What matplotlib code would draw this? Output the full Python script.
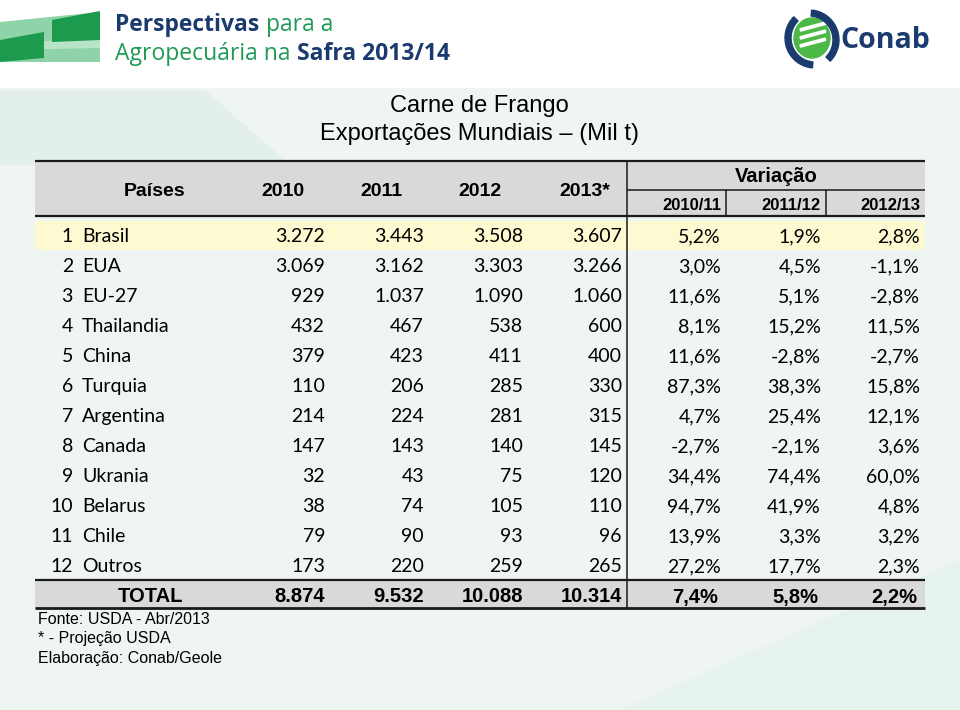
import matplotlib
matplotlib.use("Agg")
import matplotlib.pyplot as plt
from matplotlib.patches import Polygon, Rectangle, Ellipse, Wedge

# ---------------- data ----------------
countries = ["Brasil", "EUA", "EU-27", "Thailandia", "China", "Turquia",
             "Argentina", "Canada", "Ukrania", "Belarus", "Chile", "Outros"]
years = ["2010", "2011", "2012", "2013*"]
v2010 = [3272, 3069, 929, 432, 379, 110, 214, 147, 32, 38, 79, 173]
v2011 = [3443, 3162, 1037, 467, 423, 206, 224, 143, 43, 74, 90, 220]
v2012 = [3508, 3303, 1090, 538, 411, 285, 281, 140, 75, 105, 93, 259]
v2013 = [3607, 3266, 1060, 600, 400, 330, 315, 145, 120, 110, 96, 265]
var_labels = ["2010/11", "2011/12", "2012/13"]
var1011 = [5.2, 3.0, 11.6, 8.1, 11.6, 87.3, 4.7, -2.7, 34.4, 94.7, 13.9, 27.2]
var1112 = [1.9, 4.5, 5.1, 15.2, -2.8, 38.3, 25.4, -2.1, 74.4, 41.9, 3.3, 17.7]
var1213 = [2.8, -1.1, -2.8, 11.5, -2.7, 15.8, 12.1, 3.6, 60.0, 4.8, 3.2, 2.3]
totals = [8874, 9532, 10088, 10314]
total_var = [7.4, 5.8, 2.2]

title1 = "Carne de Frango"
title2 = "Exportações Mundiais – (Mil t)"
notes = ["Fonte: USDA - Abr/2013", "* - Projeção USDA", "Elaboração: Conab/Geole"]


def fmt_int(v):
    return f"{v:,}".replace(",", ".")


def fmt_pct(v):
    return f"{v:.1f}".replace(".", ",") + "%"


# ---------------- figure ----------------
W, H = 960, 710
fig = plt.figure(figsize=(W / 100, H / 100), dpi=100)
ax = fig.add_axes([0, 0, 1, 1])
ax.set_xlim(0, W)
ax.set_ylim(H, 0)
ax.axis("off")
renderer = fig.canvas.get_renderer()

NAVY = "#1b3b6f"
GREEN = "#1f9a55"
ROWF = ["Lato", "DejaVu Sans"]
ARIAL = ["Liberation Sans", "DejaVu Sans"]
LOGOF = ["Open Sans", "DejaVu Sans"]

# background
ax.add_patch(Rectangle((0, 0), W, H, color="white", zorder=0))
ax.add_patch(Rectangle((0, 88), W, H - 88, color="#eff5f2", zorder=0))
ax.add_patch(Polygon([(0, 90), (205, 90), (290, 165), (0, 165)],
                     closed=True, color="#e3f0e9", zorder=0.5, lw=0))
ax.add_patch(Polygon([(620, 710), (960, 560), (960, 710)],
                     closed=True, color="#e6f2ec", zorder=0.5, lw=0))

# left logo
ax.add_patch(Polygon([(0, 22), (100, 12), (100, 62), (0, 62)], closed=True,
                     color="#8fd3a8", lw=0, zorder=1))
ax.add_patch(Polygon([(0, 42), (100, 40), (100, 48), (0, 50)], closed=True,
                     color="#b8e4c7", lw=0, zorder=1.1))
ax.add_patch(Polygon([(52, 20), (100, 11), (100, 40), (52, 42)], closed=True,
                     color="#1c9a4e", lw=0, zorder=1.2))
ax.add_patch(Polygon([(0, 40), (44, 32), (44, 58), (0, 62)], closed=True,
                     color="#1c9a4e", lw=0, zorder=1.2))


def run_text(x, y, parts, size):
    """Place consecutive text pieces on one line."""
    for s, col, wt in parts:
        t = ax.text(x, y, s, color=col, fontsize=size, fontweight=wt,
                    family=LOGOF, va="center", ha="left")
        bb = t.get_window_extent(renderer=renderer)
        x += bb.width + 0.28 * size * 100 / 72


run_text(115, 25, [("Perspectivas", NAVY, "bold"), ("para a", GREEN, "normal")], 16.5)
run_text(115, 54, [("Agropecuária na", GREEN, "normal"), ("Safra 2013/14", NAVY, "bold")], 16.5)

# Conab logo
ax.add_patch(Ellipse((812, 38), 36, 40, color="#4cb848", zorder=2))
for dy in (-8, 0, 8):
    ax.add_patch(Rectangle((800, 38 + dy - 1.2), 26, 2.4, color="white",
                           zorder=2.1, angle=-15))
ax.add_patch(Wedge((815, 38), 30, 95, 225, width=6, color=NAVY, zorder=2.2))
ax.add_patch(Wedge((809, 40), 30, 275, 45, width=6, color=NAVY, zorder=2.2))
ax.text(840, 40, "Conab", color=NAVY, fontsize=20.5, fontweight="bold",
        family=LOGOF, va="center", ha="left")

# title
ax.text(479, 106, title1, fontsize=17, family=ARIAL, ha="center", va="center")
ax.text(479, 134, title2, fontsize=17, family=ARIAL, ha="center", va="center")

# table geometry
L, R = 35, 925
top, hdr_bot = 161, 216
vx = 627
row0, step = 235, 30
n = len(countries)
tot_top, tot_bot = row0 + step * n - 15, row0 + step * n + 13
tot_y = (tot_top + tot_bot) / 2 + 3

ax.add_patch(Rectangle((L, top), R - L, hdr_bot - top, color="#d9d9d9", lw=0, zorder=1))
ax.add_patch(Rectangle((L, row0 - 14), R - L, 29, color="#fdf9d0", lw=0, zorder=1))
ax.add_patch(Rectangle((L, tot_top), R - L, tot_bot - tot_top, color="#d9d9d9", lw=0, zorder=1))

lk = dict(color="#1a1a1a", zorder=3, solid_capstyle="butt")
ax.plot([L, R], [top, top], lw=1.6, **lk)
ax.plot([L, R], [hdr_bot, hdr_bot], lw=1.6, **lk)
ax.plot([L, R], [tot_top, tot_top], lw=1.6, **lk)
ax.plot([L, R], [tot_bot, tot_bot], lw=2.0, **lk)
ax.plot([vx, vx], [top, tot_bot], lw=1.1, **lk)
ax.plot([vx, R], [190, 190], lw=1.1, **lk)
for sx in (726, 826):
    ax.plot([sx, sx], [190, hdr_bot], lw=1.1, **lk)

# header
ax.text(155, 191, "Países", fontsize=14, fontweight="bold", family=ARIAL,
        ha="center", va="center", zorder=4)
year_x = [283, 381, 480, 585]
for x, yl in zip(year_x, years):
    ax.text(x, 191, yl, fontsize=14, fontweight="bold", family=ARIAL,
            ha="center", va="center", zorder=4)
ax.text(776, 177, "Variação", fontsize=14.5, fontweight="bold", family=ARIAL,
        ha="center", va="center", zorder=4)
var_x = [721, 821, 920]
for x, vl in zip(var_x, var_labels):
    ax.text(x, 205, vl, fontsize=12, fontweight="bold", family=ARIAL,
            ha="right", va="center", zorder=4)

# rows
val_x = [325, 424, 523, 622]
for i, c in enumerate(countries):
    y = row0 + step * i + 1.5
    ax.text(73, y, str(i + 1), fontsize=14, family=ROWF, ha="right", va="center", zorder=4)
    ax.text(82, y, c, fontsize=14, family=ROWF, ha="left", va="center", zorder=4)
    for x, arr in zip(val_x, (v2010, v2011, v2012, v2013)):
        ax.text(x, y, fmt_int(arr[i]), fontsize=14, family=ROWF,
                ha="right", va="center", zorder=4)
    for x, arr in zip(var_x, (var1011, var1112, var1213)):
        ax.text(x, y, fmt_pct(arr[i]), fontsize=14, family=ROWF,
                ha="right", va="center", zorder=4)

# total row
ax.text(150, tot_y, "TOTAL", fontsize=14.5, fontweight="bold", family=ARIAL,
        ha="center", va="center", zorder=4)
for x, v in zip(val_x, totals):
    ax.text(x, tot_y, fmt_int(v), fontsize=14.5, fontweight="bold", family=ARIAL,
            ha="right", va="center", zorder=4)
for x, v in zip(var_x, total_var):
    ax.text(x - 3, tot_y, fmt_pct(v), fontsize=14.5, fontweight="bold", family=ARIAL,
            ha="right", va="center", zorder=4)

# notes
for k, t in enumerate(notes):
    ax.text(38, 619 + 20 * k, t, fontsize=11.5, family=ARIAL, ha="left",
            va="center", zorder=4)

fig.savefig("out.png", dpi=100)
